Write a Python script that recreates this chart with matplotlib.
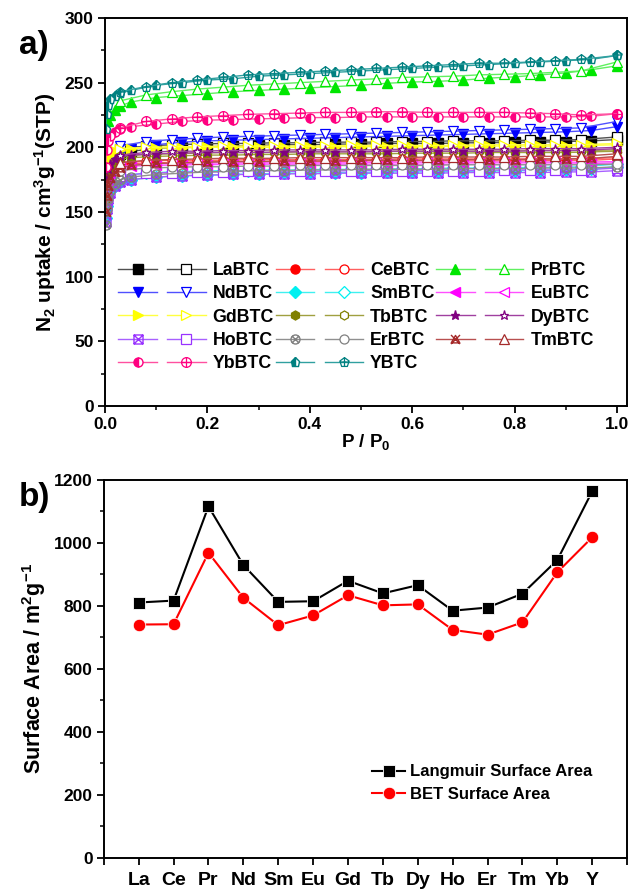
import matplotlib
matplotlib.use("Agg")
import matplotlib.pyplot as plt
from matplotlib.path import Path
from matplotlib.legend_handler import HandlerTuple
from matplotlib.ticker import MultipleLocator
import numpy as np

plt.rcParams['font.family'] = ['Liberation Sans', 'DejaVu Sans']
plt.rcParams['font.weight'] = 'bold'
plt.rcParams['mathtext.default'] = 'regular'

# ---------------- data: N2 isotherms ----------------
ads_p = [0.001, 0.003, 0.006, 0.01, 0.02, 0.03, 0.05, 0.10, 0.15, 0.20, 0.25, 0.30, 0.35,
         0.40, 0.45, 0.50, 0.55, 0.60, 0.65, 0.70, 0.75, 0.80, 0.85, 0.90, 0.95, 1.00]
des_p = [1.00, 0.93, 0.88, 0.83, 0.78, 0.73, 0.68, 0.63, 0.58, 0.53, 0.48, 0.43, 0.38,
         0.33, 0.28, 0.23, 0.18, 0.13, 0.08, 0.03]

names = ['LaBTC', 'CeBTC', 'PrBTC', 'NdBTC', 'SmBTC', 'EuBTC', 'GdBTC',
         'TbBTC', 'DyBTC', 'HoBTC', 'ErBTC', 'TmBTC', 'YbBTC', 'YBTC']

la_ads = [160, 172, 180, 186, 192, 195, 197, 199, 200, 200.5, 201, 201.5, 202, 202, 202.5, 202.5, 203, 203, 203, 203.5, 203.5, 204, 204, 204.5, 205, 206]
la_des = [208, 206, 205.5, 205.5, 205, 205, 205, 204.5, 204.5, 204, 204, 204, 203.5, 203.5, 203, 203, 202.5, 202, 201, 199]
ce_ads = [160, 172, 178, 182, 185, 186.5, 187.5, 188, 188.5, 189, 189, 189, 189, 189, 189, 189.5, 189.5, 189.5, 189.5, 189.5, 189.5, 189.5, 189.5, 190, 190, 191]
ce_des = [192, 191, 191, 191, 191, 191, 191, 191, 191, 190.5, 190.5, 190.5, 190.5, 190.5, 190.5, 190, 190, 190, 189.5, 188]
pr_ads = [198, 212, 220, 225, 229, 232, 235, 238.5, 240, 241.5, 243, 244, 245, 246, 247, 248, 249.5, 250.5, 251, 252, 253.5, 254.5, 256, 257.5, 260, 263]
pr_des = [266, 259, 258, 257, 256.5, 256, 255, 254.5, 254, 253, 252, 251, 250, 249, 248, 246.5, 245, 243, 240.5, 236]
nd_ads = [150, 162, 172, 180, 190, 195, 199, 202, 204, 205, 205.5, 206, 206.5, 207, 207.5, 208, 208.5, 209, 209.5, 210, 210.5, 211, 211.5, 212, 213, 216]
nd_des = [220, 215, 214.5, 214, 213.5, 213, 212.5, 212, 211.5, 211, 210.5, 210, 209.5, 209, 208.5, 208, 207, 206, 204.5, 201]
sm_ads = [145, 155, 162, 166, 170, 173, 175, 177, 178, 178.5, 179, 179.5, 180, 180, 180.5, 180.5, 181, 181, 181, 181.5, 181.5, 182, 182, 182.5, 183, 185]
sm_des = [187, 185, 184.5, 184.5, 184, 184, 184, 183.5, 183.5, 183, 183, 183, 182.5, 182.5, 182, 182, 181.5, 181, 180, 178]
eu_ads = [158, 170, 176, 180, 183, 184.5, 185.5, 186, 186.5, 186.5, 187, 187, 187, 187, 187, 187, 187, 187, 187, 187, 187, 187, 187, 187, 187.5, 188]
eu_des = [189, 188.5, 188.5, 188.5, 188.5, 188.5, 188.5, 188.5, 188.5, 188.5, 188, 188, 188, 188, 188, 188, 187.5, 187.5, 187, 185.5]
gd_ads = [170, 182, 190, 194, 197, 198, 199, 199.5, 199.5, 200, 200, 200, 200, 200, 200.5, 200.5, 200.5, 200.5, 200.5, 201, 201, 201, 201, 201, 201.5, 202]
gd_des = [203, 202, 202, 202, 202, 202, 201.5, 201.5, 201.5, 201.5, 201.5, 201, 201, 201, 201, 201, 200.5, 200.5, 200, 199]
tb_ads = [160, 172, 180, 185, 189, 191, 192, 193, 193.5, 194, 194, 194.5, 194.5, 195, 195, 195, 195, 195.5, 195.5, 195.5, 196, 196, 196, 196, 196.5, 197]
tb_des = [198, 197.5, 197.5, 197.5, 197, 197, 197, 197, 197, 196.5, 196.5, 196.5, 196.5, 196, 196, 196, 195.5, 195, 194.5, 193]
dy_ads = [165, 176, 183, 187, 191, 193, 194, 195, 195.5, 196, 196, 196, 196.5, 196.5, 196.5, 196.5, 197, 197, 197, 197, 197, 197, 197.5, 197.5, 198, 199]
dy_des = [200, 199, 199, 199, 198.5, 198.5, 198.5, 198.5, 198.5, 198, 198, 198, 198, 198, 197.5, 197.5, 197, 197, 196, 194]
ho_ads = [142, 152, 160, 165, 170, 173, 175, 177, 178, 178.5, 179, 179, 179.5, 179.5, 180, 180, 180, 180, 180, 180.5, 180.5, 180.5, 180.5, 181, 181, 182]
ho_des = [184, 182.5, 182.5, 182.5, 182.5, 182, 182, 182, 182, 182, 182, 181.5, 181.5, 181.5, 181.5, 181, 181, 180.5, 180, 178]
er_ads = [140, 152, 160, 166, 172, 175, 177, 179, 180, 181, 181.5, 182, 182, 182.5, 182.5, 183, 183, 183, 183, 183.5, 183.5, 183.5, 184, 184, 184, 185]
er_des = [187, 186.5, 186.5, 186.5, 186.5, 186.5, 186.5, 186, 186, 186, 186, 186, 186, 185.5, 185.5, 185, 185, 184.5, 184, 182]
tm_ads = [150, 162, 170, 176, 181, 184, 186, 187.5, 188, 188.5, 189, 189, 189.5, 189.5, 189.5, 190, 190, 190, 190, 190.5, 190.5, 190.5, 191, 191, 191.5, 193]
tm_des = [195, 193, 193, 193, 192.5, 192.5, 192.5, 192.5, 192, 192, 192, 192, 192, 191.5, 191.5, 191.5, 191, 190.5, 190, 188]
yb_ads = [185, 198, 205, 209, 212, 214, 216, 218, 220, 221, 221.5, 222, 222.5, 223, 223, 223.5, 223.5, 223.5, 223.5, 223.5, 223.5, 223.5, 223.5, 223.5, 224, 226]
yb_des = [226, 225, 226, 226.5, 227, 227, 227, 227, 227.5, 227.5, 227, 227, 226.5, 226, 225.5, 224.5, 223.5, 222, 220, 215]
y_ads = [214, 226, 233, 237, 240, 242, 244, 248, 250, 252, 253, 255, 256, 257, 258, 259, 260, 261, 262, 263, 264, 265, 266, 267, 268, 271]
y_des = [271, 268, 267, 266, 265, 265, 264, 263, 262, 261, 260, 259, 258, 257, 256, 254, 252, 250, 247, 243]

ads_all = [la_ads, ce_ads, pr_ads, nd_ads, sm_ads, eu_ads, gd_ads, tb_ads, dy_ads, ho_ads, er_ads, tm_ads, yb_ads, y_ads]
des_all = [la_des, ce_des, pr_des, nd_des, sm_des, eu_des, gd_des, tb_des, dy_des, ho_des, er_des, tm_des, yb_des, y_des]

# ---------------- data: surface areas ----------------
elements = ['La', 'Ce', 'Pr', 'Nd', 'Sm', 'Eu', 'Gd', 'Tb', 'Dy', 'Ho', 'Er', 'Tm', 'Yb', 'Y']
langmuir = [811, 817, 1116, 930, 813, 815, 880, 840, 866, 785, 795, 839, 946, 1164]
bet = [741, 742, 969, 826, 739, 770, 834, 802, 805, 724, 709, 748, 907, 1018]

# ---------------- custom markers ----------------
M, L, C = Path.MOVETO, Path.LINETO, Path.CLOSEPOLY
box = Path([(-1, -1), (1, -1), (1, 1), (-1, 1), (-1, -1)], [M, L, L, L, C])
circ = Path.unit_circle()
d1 = Path([(-0.75, -0.75), (0.75, 0.75)], [M, L])
d2 = Path([(-0.75, 0.75), (0.75, -0.75)], [M, L])
bx1 = Path([(-1, -1), (1, 1)], [M, L])
bx2 = Path([(-1, 1), (1, -1)], [M, L])
hpl = Path([(-1, 0), (1, 0)], [M, L])
vpl = Path([(0, -1), (0, 1)], [M, L])
boxtimes = Path.make_compound_path(box, bx1, bx2)
otimes = Path.make_compound_path(circ, d1, d2)
oplus = Path.make_compound_path(circ, hpl, vpl)
tri = Path([(0, 0.9), (-0.95, -0.75), (0.95, -0.75), (0, 0.9)], [M, L, L, C])
tx1 = Path([(-1, -1), (1, 1)], [M, L])
tx2 = Path([(-1, 1), (1, -1)], [M, L])
tritimes = Path.make_compound_path(tri, tx1, tx2)
ang = np.deg2rad(90 + 72 * np.arange(5))
pent_v = list(zip(np.cos(ang), np.sin(ang))) + [(0, 1)]
pent = Path(pent_v, [M, L, L, L, L, C])
pplus = Path.make_compound_path(pent, Path([(-0.95, 0.1), (0.95, 0.1)], [M, L]),
                                Path([(0, -0.8), (0, 1)], [M, L]))

# style per series: (marker color, line color, filled marker, open marker, filled kind)
styles = [
    ('#000000', '#505050', 's', 's', 'fill'),
    ('#ff0000', '#ff6060', 'o', 'o', 'fill'),
    ('#00e600', '#60f060', '^', '^', 'fill'),
    ('#0000ff', '#5050ff', 'v', 'v', 'fill'),
    ('#00f0f0', '#40f0f0', 'D', 'D', 'fill'),
    ('#ff00ff', '#ff50ff', '<', '<', 'fill'),
    ('#ffff00', '#ffff40', '>', '>', 'fill'),
    ('#808000', '#a0a040', 'h', 'h', 'fill'),
    ('#800080', '#a040a0', '*', '*', 'fill'),
    ('#9933ff', '#a860ff', boxtimes, 's', 'path'),
    ('#808080', '#909090', otimes, 'o', 'path'),
    ('#a52a2a', '#b85050', tritimes, '^', 'path'),
    ('#ff0080', '#ff50a0', 'o', oplus, 'half'),
    ('#008080', '#30a0a0', 'p', pplus, 'half'),
]

fig = plt.figure(figsize=(6.29, 8.90), dpi=100)
ax1 = fig.add_axes([0.167, 0.5438, 0.830, 0.4360])
ax2 = fig.add_axes([0.165, 0.0360, 0.832, 0.4247])

handles = []
for i, (name, ya, yd) in enumerate(zip(names, ads_all, des_all)):
    mc, lc, mf, mo, kind = styles[i]
    ms = 6.5
    if kind == 'fill':
        la, = ax1.plot(ads_p, ya, color=lc, lw=1.0, marker=mf, ms=ms, mfc=mc, mec=mc, mew=1.0)
    elif kind == 'path':
        la, = ax1.plot(ads_p, ya, color=lc, lw=1.0, marker=mf, ms=ms, mfc='none', mec=mc, mew=1.0)
    else:
        la, = ax1.plot(ads_p, ya, color=lc, lw=1.0, marker=mf, ms=ms, mfc=mc, mec=mc,
                       mew=1.0, fillstyle='left', markerfacecoloralt='white')
    if kind == 'half':
        ld, = ax1.plot(des_p, yd, color=lc, lw=1.0, marker=mo, ms=ms + 0.5, mfc='none', mec=mc, mew=0.9)
    else:
        ld, = ax1.plot(des_p, yd, color=lc, lw=1.0, marker=mo, ms=ms, mfc='white', mec=mc, mew=0.9)
    handles.append((la, ld))

ax1.set_xlim(0, 1.02)
ax1.set_ylim(0, 300)
ax1.xaxis.set_major_locator(MultipleLocator(0.2))
ax1.xaxis.set_minor_locator(MultipleLocator(0.1))
ax1.yaxis.set_major_locator(MultipleLocator(50))
ax1.yaxis.set_minor_locator(MultipleLocator(25))
ax1.set_xlabel('P / P$_0$', fontsize=13.5, fontweight='bold', labelpad=0)
ax1.set_ylabel('N$_2$ uptake / cm$^3$g$^{-1}$(STP)', fontsize=15, fontweight='bold', labelpad=5)

# legend: reorder for row-major reading with 3 columns
order = []
ncol = 3
nrow = int(np.ceil(len(names) / ncol))
for c in range(ncol):
    for r in range(nrow):
        k = r * ncol + c
        if k < len(names):
            order.append(k)
leg = ax1.legend([handles[k] for k in order], [names[k] for k in order], ncol=3,
                 handler_map={tuple: HandlerTuple(ndivide=None, pad=0.6)},
                 handlelength=4.9, handletextpad=0.4, columnspacing=0.1,
                 labelspacing=0.36, frameon=False, loc='upper left',
                 bbox_to_anchor=(0.012, 0.39), borderaxespad=0.0,
                 prop={'weight': 'bold', 'size': 12.8})

# bottom panel
xpos = np.arange(1, len(elements) + 1)
ax2.plot(xpos, langmuir, color='black', lw=1.5, marker='s', ms=8, mfc='black', mec='white', mew=0.6,
         label='Langmuir Surface Area')
ax2.plot(xpos, bet, color='#ff0000', lw=1.5, marker='o', ms=9, mfc='#ff0000', mec='white', mew=0.6,
         label='BET Surface Area')
ax2.set_xlim(0, 15)
ax2.set_ylim(0, 1200)
ax2.set_xticks(np.arange(0, 16))
ax2.set_xticklabels([''] + elements + [''])
ax2.yaxis.set_major_locator(MultipleLocator(200))
ax2.yaxis.set_minor_locator(MultipleLocator(100))
ax2.set_ylabel('Surface Area / m$^2$g$^{-1}$', fontsize=15.5, fontweight='bold', labelpad=4)
ax2.legend(frameon=False, loc='upper left', bbox_to_anchor=(0.5, 0.265), borderaxespad=0,
           handlelength=2.0, handletextpad=0.3, labelspacing=0.45,
           prop={'weight': 'bold', 'size': 12})

for ax in (ax1, ax2):
    for s in ax.spines.values():
        s.set_linewidth(1.4)
    ax.tick_params(which='major', direction='out', length=5, width=1.3, labelsize=12.5,
                   top=False, right=False, pad=3)
    ax.tick_params(which='minor', direction='out', length=3, width=1.1, top=False, right=False)
    for lab in ax.get_xticklabels() + ax.get_yticklabels():
        lab.set_fontweight('bold')
ax2.tick_params(axis='x', which='major', labelsize=14, pad=5)

fig.text(0.03, 0.949, 'a)', fontsize=24, fontweight='bold', va='center')
fig.text(0.03, 0.441, 'b)', fontsize=24, fontweight='bold', va='center')

fig.savefig('out.png', dpi=100)
